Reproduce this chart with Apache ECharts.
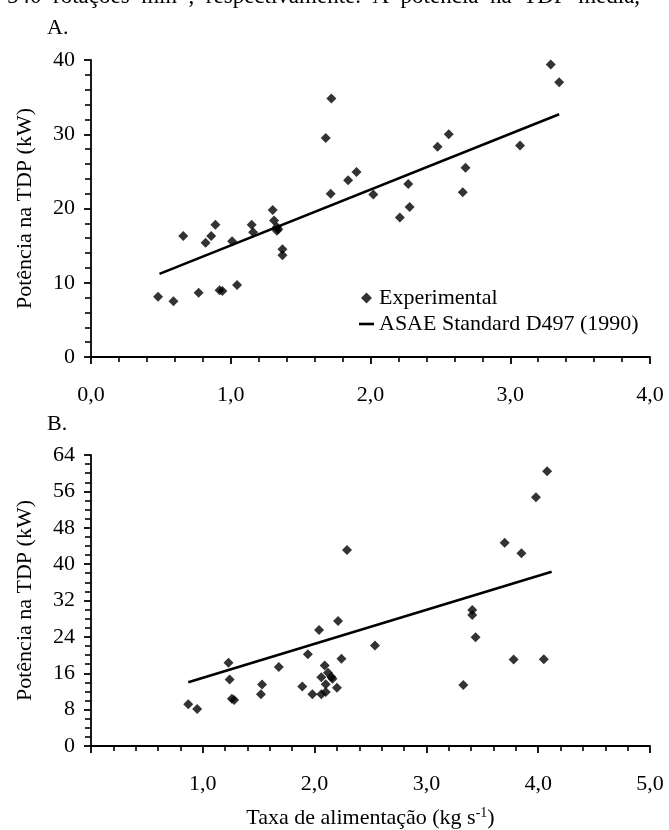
<!DOCTYPE html>
<html>
<head>
<meta charset="utf-8">
<script src="https://cdn.jsdelivr.net/npm/echarts@6/dist/echarts.min.js"></script>
<style>
html,body{margin:0;padding:0;background:#fff;}
#c{width:669px;height:830px;}
</style>
</head>
<body>
<div id="c"></div>
<script>
// ---- Data ----
const aFeed  = [0.48,0.59,0.66,0.77,0.82,0.86,0.89,0.92,0.94,1.01,1.045,1.15,1.16,1.30,1.31,1.33,1.34,1.33,1.37,1.37,1.68,1.72,1.715,1.84,1.90,2.02,2.27,2.21,2.28,2.48,2.56,2.66,2.68,3.07,3.29,3.35];
const aPower = [8.1,7.5,16.3,8.65,15.4,16.3,17.8,9.0,8.9,15.6,9.7,17.8,16.8,19.8,18.4,17.5,17.2,17.0,14.5,13.7,29.5,34.8,22.0,23.8,24.9,21.9,23.3,18.8,20.2,28.3,30.0,22.2,25.5,28.5,39.4,37.0];
const aLineFeed  = [0.49, 3.35];
const aLinePower = [11.2, 32.7];

const bFeed  = [0.87,0.95,1.23,1.24,1.26,1.28,1.52,1.53,1.68,1.89,1.94,1.98,2.04,2.06,2.10,2.06,2.10,2.09,2.12,2.15,2.16,2.20,2.21,2.24,2.29,2.54,3.33,3.41,3.41,3.44,3.70,3.78,3.85,3.98,4.05,4.08];
const bPower = [9.2,8.15,18.3,14.6,10.4,10.1,11.4,13.5,17.4,13.1,20.2,11.4,25.5,11.4,11.9,15.1,13.6,17.7,16.1,15.2,14.8,12.8,27.5,19.2,43.1,22.1,13.4,29.9,28.8,23.9,44.7,19.0,42.4,54.7,19.1,60.4];
const bLineFeed  = [0.87, 4.12];
const bLinePower = [14.0, 38.3];

const seriesNames = ['Experimental', 'ASAE Standard D497 (1990)'];
const panelLabels = ['A.', 'B.'];
const yAxisName = 'Potência na TDP (kW)';
const xAxisName = 'Taxa de alimentação (kg s{sup|-1})';
const topText = '540  rotações  min{sup|-1},  respectivamente.  A  potência  na  TDP  média,';

// ---- Chart ----
const FONT = '"Liberation Serif", "Times New Roman", serif';
const FS = 22;
const pairs = (xs, ys) => xs.map((x, i) => [x, ys[i]]);
const fmtComma = v => v.toFixed(1).replace('.', ',');

function valueAxis(extra) {
  return Object.assign({
    type: 'value',
    axisLine: { show: true, lineStyle: { color: '#000', width: 1.8 } },
    axisTick: { show: true, length: 7, lineStyle: { color: '#000', width: 1.8 } },
    minorTick: { show: true, length: 5, lineStyle: { color: '#000', width: 1.6 } },
    splitLine: { show: false },
    axisLabel: { color: '#000', fontFamily: FONT, fontSize: FS },
    nameTextStyle: { color: '#000', fontFamily: FONT, fontSize: FS }
  }, extra);
}

const chart = echarts.init(document.getElementById('c'), null, { renderer: 'canvas' });
chart.setOption({
  animation: false,
  backgroundColor: '#fff',
  textStyle: { fontFamily: FONT, color: '#000' },
  title: [
    { text: panelLabels[0], left: 47, top: 17, textStyle: { fontFamily: FONT, fontSize: FS, fontWeight: 'normal', color: '#000' }, padding: 0 },
    { text: panelLabels[1], left: 47, top: 413, textStyle: { fontFamily: FONT, fontSize: FS, fontWeight: 'normal', color: '#000' }, padding: 0 }
  ],
  graphic: [{
    type: 'text',
    left: 7,
    top: -15,
    silent: true,
    style: {
      text: topText,
      fill: '#000',
      font: '23px ' + FONT,
      rich: { sup: { fontSize: 14, fontFamily: FONT, padding: [0,0,10,0] } }
    }
  }],
  legend: {
    orient: 'vertical',
    left: 359,
    top: 286,
    itemWidth: 15,
    itemHeight: 11,
    itemGap: 2,
    padding: 0,
    textStyle: { fontFamily: FONT, fontSize: FS, color: '#000', lineHeight: 24 },
    data: [
      { name: seriesNames[0], icon: 'path://M5,0 L10,5 L5,10 L0,5 Z' },
      { name: seriesNames[1], icon: 'path://M0,0 L15,0 L15,2.6 L0,2.6 Z' }
    ]
  },
  grid: [
    { left: 91, top: 60, width: 559, height: 297 },
    { left: 91, top: 455, width: 559, height: 291 }
  ],
  xAxis: [
    valueAxis({ gridIndex: 0, min: 0, max: 4, interval: 1,
      minorTick: { show: true, splitNumber: 5, length: 5, lineStyle: { color: '#000', width: 1.6 } },
      axisLabel: { color: '#000', fontFamily: FONT, fontSize: FS, margin: 27, formatter: fmtComma } }),
    valueAxis({ gridIndex: 1, min: 0, max: 5, interval: 1,
      minorTick: { show: true, splitNumber: 5, length: 5, lineStyle: { color: '#000', width: 1.6 } },
      axisLabel: { color: '#000', fontFamily: FONT, fontSize: FS, margin: 27, formatter: v => v === 0 ? '' : fmtComma(v) },
      name: xAxisName, nameLocation: 'middle', nameGap: 60,
      nameTextStyle: { color: '#000', fontFamily: FONT, fontSize: FS,
        rich: { sup: { fontSize: 14, fontFamily: FONT, padding: [0,0,10,0] } } } })
  ],
  yAxis: [
    valueAxis({ gridIndex: 0, min: 0, max: 40, interval: 10,
      minorTick: { show: true, splitNumber: 5, length: 6, lineStyle: { color: '#000', width: 1.6 } },
      axisLabel: { color: '#000', fontFamily: FONT, fontSize: FS, margin: 16 },
      name: yAxisName, nameLocation: 'middle', nameGap: 55 }),
    valueAxis({ gridIndex: 1, min: 0, max: 64, interval: 8,
      minorTick: { show: true, splitNumber: 4, length: 6, lineStyle: { color: '#000', width: 1.6 } },
      axisLabel: { color: '#000', fontFamily: FONT, fontSize: FS, margin: 16 },
      name: yAxisName, nameLocation: 'middle', nameGap: 55 })
  ],
  series: [
    { name: seriesNames[0], type: 'scatter', xAxisIndex: 0, yAxisIndex: 0,
      symbol: 'diamond', symbolSize: 10, itemStyle: { color: '#000' }, data: pairs(aFeed, aPower) },
    { name: seriesNames[1], type: 'line', xAxisIndex: 0, yAxisIndex: 0,
      symbol: 'none', showSymbol: false, lineStyle: { color: '#000', width: 2.6 }, itemStyle: { color: '#000' }, data: pairs(aLineFeed, aLinePower) },
    { name: seriesNames[0], type: 'scatter', xAxisIndex: 1, yAxisIndex: 1,
      symbol: 'diamond', symbolSize: 10, itemStyle: { color: '#000' }, data: pairs(bFeed, bPower) },
    { name: seriesNames[1], type: 'line', xAxisIndex: 1, yAxisIndex: 1,
      symbol: 'none', showSymbol: false, lineStyle: { color: '#000', width: 2.6 }, itemStyle: { color: '#000' }, data: pairs(bLineFeed, bLinePower) }
  ]
});
</script>
</body>
</html>
